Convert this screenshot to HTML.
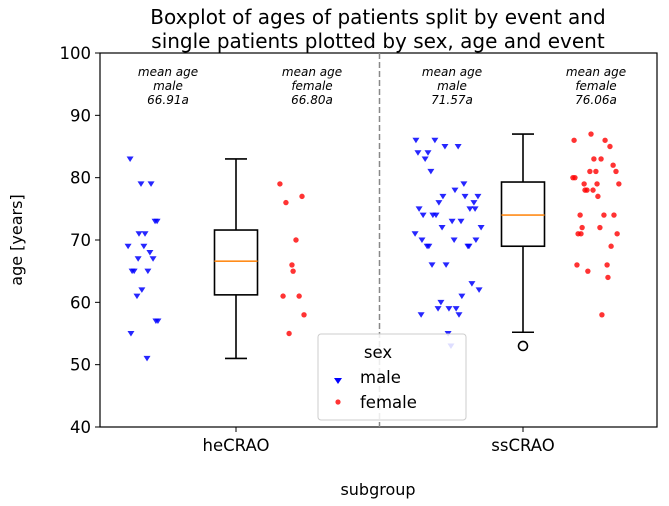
<!DOCTYPE html>
<html><head><meta charset="utf-8"><style>
body{margin:0;background:#fff}
svg{font-family:"DejaVu Sans","Liberation Sans",sans-serif}
</style></head><body>
<svg width="669" height="501" id="c">
<text x="378" y="24" font-size="20" text-anchor="middle">Boxplot of ages of patients split by event and</text>
<text x="378" y="48" font-size="20" text-anchor="middle">single patients plotted by sex, age and event</text>
<rect x="100" y="53" width="557" height="374" fill="none" stroke="#000" stroke-width="1.2"/>
<line x1="379.5" y1="53" x2="379.5" y2="427" stroke="#888" stroke-width="1.5" stroke-dasharray="6,3"/>
<g id="g"></g>
<text transform="translate(22,240) rotate(-90)" font-size="16" text-anchor="middle">age [years]</text>
<text x="378" y="495" font-size="16" text-anchor="middle">subgroup</text>
<g font-size="12" font-style="italic" text-anchor="middle">
<text x="168" y="76"><tspan x="168">mean age</tspan><tspan x="168" dy="14">male</tspan><tspan x="168" dy="14">66.91a</tspan></text>
<text x="312" y="76"><tspan x="312">mean age</tspan><tspan x="312" dy="14">female</tspan><tspan x="312" dy="14">66.80a</tspan></text>
<text x="452" y="76"><tspan x="452">mean age</tspan><tspan x="452" dy="14">male</tspan><tspan x="452" dy="14">71.57a</tspan></text>
<text x="596" y="76"><tspan x="596">mean age</tspan><tspan x="596" dy="14">female</tspan><tspan x="596" dy="14">76.06a</tspan></text>
</g>
<g>
<rect x="318" y="334" width="148" height="86" rx="3" fill="#fff" fill-opacity="0.85" stroke="#ccc"/>
<text x="378" y="358" font-size="16.5" text-anchor="middle">sex</text>
<path d="M338,384 l-4,-6 h8z" fill="#0000ff"/>
<text x="360" y="383" font-size="16.5">male</text>
<circle cx="338" cy="402" r="2.6" fill="#ff0000" fill-opacity="0.8"/>
<text x="360" y="408" font-size="16.5">female</text>
</g>
</svg>
<script>
const categories=["heCRAO","ssCRAO"];
const yTicks=[40,50,60,70,80,90,100];
const boxStats=[[51,61.2,66.6,71.6,83],[55.2,69,74,79.3,87]];
const outliers=[[],[53]];
const heMaleX=[-.369,-.331,-.296,-.282,-.275,-.338,-.317,-.376,-.321,-.300,-.341,-.289,-.362,-.355,-.307,-.328,-.345,-.279,-.272,-.366,-.310];
const heMaleAge=[83,79,79,73,73,71,71,69,69,68,67,67,65,65,65,62,61,57,57,55,51];
const heFemaleX=[.153,.230,.174,.209,.195,.199,.164,.220,.237,.185];
const heFemaleAge=[79,77,76,70,66,65,61,61,58,55];
const ssMaleX=[-.373,-.307,-.272,-.226,-.366,-.331,-.341,-.321,-.206,-.237,-.279,-.202,-.157,-.293,-.171,-.362,-.185,-.167,-.348,-.314,-.303,-.247,-.216,-.282,-.146,-.376,-.352,-.240,-.164,-.334,-.328,-.192,-.188,-.317,-.268,-.178,-.153,-.213,-.286,-.296,-.258,-.233,-.355,-.223,-.261,-.251];
const ssMaleAge=[86,86,85,85,84,84,83,81,79,78,77,77,77,76,76,75,75,75,74,74,74,73,73,72,72,71,70,70,70,69,69,69,69,66,66,63,62,61,60,59,59,59,58,58,55,53];
const ssFemaleX=[.237,.178,.286,.303,.247,.272,.314,.233,.254,.324,.174,.181,.213,.258,.334,.216,.223,.244,.261,.199,.282,.317,.206,.268,.192,.202,.328,.307,.188,.293,.226,.296,.275];
const ssFemaleAge=[87,86,86,85,83,83,82,81,81,81,80,80,79,79,79,78,78,78,77,74,74,74,72,72,71,71,71,69,66,66,65,64,58];

const NS="http://www.w3.org/2000/svg";
const g=document.getElementById('g');
const xS=v=>236+v*287;
const yS=v=>427-(v-40)*(374/60);
function mk(t,a,p){const e=document.createElementNS(NS,t);for(const k in a)e.setAttribute(k,a[k]);(p||g).appendChild(e);return e;}
yTicks.forEach(t=>{
  const l=mk('line',{x1:95,x2:100,y1:yS(t),y2:yS(t),stroke:'#000'});
  
  
  const tx=mk('text',{x:91,y:yS(t)+6,'font-size':16.5,'text-anchor':'end'});tx.textContent=t;
  
  
});
categories.forEach((c,i)=>{
  const l=mk('line',{x1:xS(i),x2:xS(i),y1:427,y2:432,stroke:'#000'});
  
  
  const tx=mk('text',{x:xS(i),y:451,'font-size':16.5,'text-anchor':'middle'});tx.textContent=c;
  
  
});
function males(xs,ys,cat){xs.forEach((x,i)=>{const px=xS(cat+x),py=yS(ys[i]);
  const p=mk('path',{d:`M${px},${py+3} l-3.5,-5.5 h7z`,fill:'#0000ff','fill-opacity':0.85});
  
  });}
function females(xs,ys,cat){xs.forEach((x,i)=>{
  const p=mk('circle',{cx:xS(cat+x),cy:yS(ys[i]),r:2.7,fill:'#ff0000','fill-opacity':0.8});
  
  });}
males(heMaleX,heMaleAge,0);females(heFemaleX,heFemaleAge,0);
males(ssMaleX,ssMaleAge,1);females(ssFemaleX,ssFemaleAge,1);
boxStats.forEach((s,i)=>{
  const cx=xS(i),hw=21.5,cw=11;
  const b=mk('g',{stroke:'#000','stroke-width':1.6,fill:'none'});
  
  
  mk('line',{x1:cx,x2:cx,y1:yS(s[0]),y2:yS(s[1])},b);
  mk('line',{x1:cx,x2:cx,y1:yS(s[3]),y2:yS(s[4])},b);
  mk('line',{x1:cx-cw,x2:cx+cw,y1:yS(s[0]),y2:yS(s[0])},b);
  mk('line',{x1:cx-cw,x2:cx+cw,y1:yS(s[4]),y2:yS(s[4])},b);
  mk('rect',{x:cx-hw,y:yS(s[3]),width:2*hw,height:yS(s[1])-yS(s[3])},b);
  mk('line',{x1:cx-hw,x2:cx+hw,y1:yS(s[2]),y2:yS(s[2]),stroke:'#ff8c1a'},b);
  outliers[i].forEach(o=>mk('circle',{cx:cx,cy:yS(o),r:4.5},b));
});
</script>
</body></html>
